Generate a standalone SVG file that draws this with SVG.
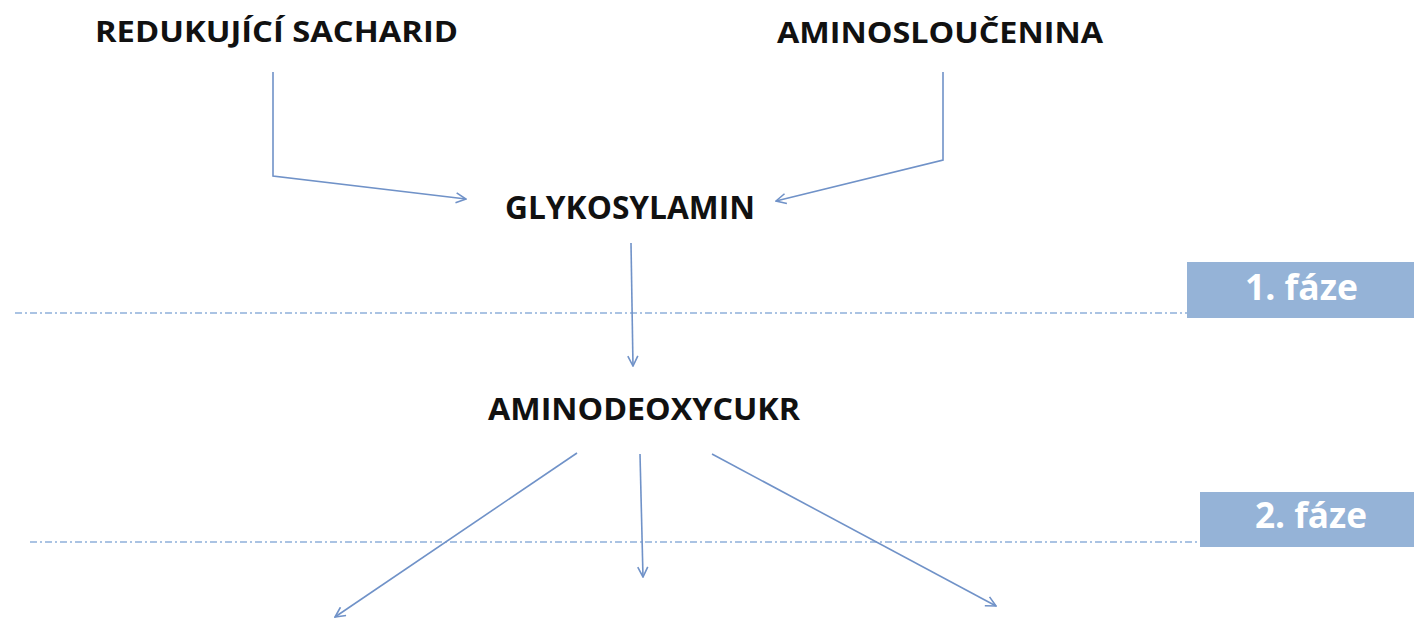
<svg xmlns="http://www.w3.org/2000/svg" width="1414" height="619" viewBox="0 0 1414 619">
  <style>
    .lbl { font-family: "Open Sans", "Liberation Sans", sans-serif; font-weight: bold; fill: #111111; }
    .phase { font-family: "Open Sans", "Liberation Sans", sans-serif; font-weight: bold; font-size: 36px; fill: #ffffff; }
    .box { fill: #95b3d7; }
    .conn { fill: none; stroke: #7092c8; stroke-width: 1.6; marker-end: url(#arr); }
    .sep { fill: none; stroke: #8fb0da; stroke-width: 1.6; stroke-dasharray: 7 3 2 3; }
  </style>
  <defs>
    <marker id="arr" viewBox="0 0 12 12" refX="11" refY="6" markerWidth="12" markerHeight="12" markerUnits="userSpaceOnUse" orient="auto">
      <polyline points="1,1 11,6 1,11" fill="none" stroke="#7092c8" stroke-width="1.6"/>
    </marker>
  </defs>
  <rect width="1414" height="619" fill="#ffffff"/>

  <!-- phase separators -->
  <g id="separators">
    <line class="sep" x1="15" y1="313" x2="1188" y2="313"/>
    <line class="sep" x1="30" y1="542" x2="1200" y2="542"/>
  </g>

  <!-- phase labels -->
  <g id="phase1">
    <rect class="box" x="1187" y="262" width="227" height="56"/>
    <text class="phase" x="1245" y="300" textLength="113" lengthAdjust="spacingAndGlyphs">1. fáze</text>
  </g>
  <g id="phase2">
    <rect class="box" x="1200" y="492" width="214" height="55"/>
    <text class="phase" x="1255" y="528" textLength="112" lengthAdjust="spacingAndGlyphs">2. fáze</text>
  </g>

  <!-- compounds -->
  <g id="saccharide">
    <text class="lbl" x="95" y="42" font-size="28" textLength="363" lengthAdjust="spacingAndGlyphs">REDUKUJÍCÍ SACHARID</text>
  </g>
  <g id="amino">
    <text class="lbl" x="777" y="43" font-size="28" textLength="326" lengthAdjust="spacingAndGlyphs">AMINOSLOUČENINA</text>
  </g>
  <g id="glycosylamine">
    <text class="lbl" x="505" y="219" font-size="32" textLength="250" lengthAdjust="spacingAndGlyphs">GLYKOSYLAMIN</text>
  </g>
  <g id="aminodeoxysugar">
    <text class="lbl" x="488" y="420" font-size="31" textLength="312" lengthAdjust="spacingAndGlyphs">AMINODEOXYCUKR</text>
  </g>

  <!-- reaction arrows -->
  <g id="connectors">
    <polyline class="conn" points="273,72 273,176 466,199"/>
    <polyline class="conn" points="943,72 943,160 776,201"/>
    <line class="conn" x1="631" y1="243" x2="633" y2="366"/>
    <line class="conn" x1="577" y1="453" x2="335" y2="617"/>
    <line class="conn" x1="640" y1="454" x2="643" y2="577"/>
    <line class="conn" x1="712" y1="454" x2="996" y2="606"/>
  </g>
</svg>
